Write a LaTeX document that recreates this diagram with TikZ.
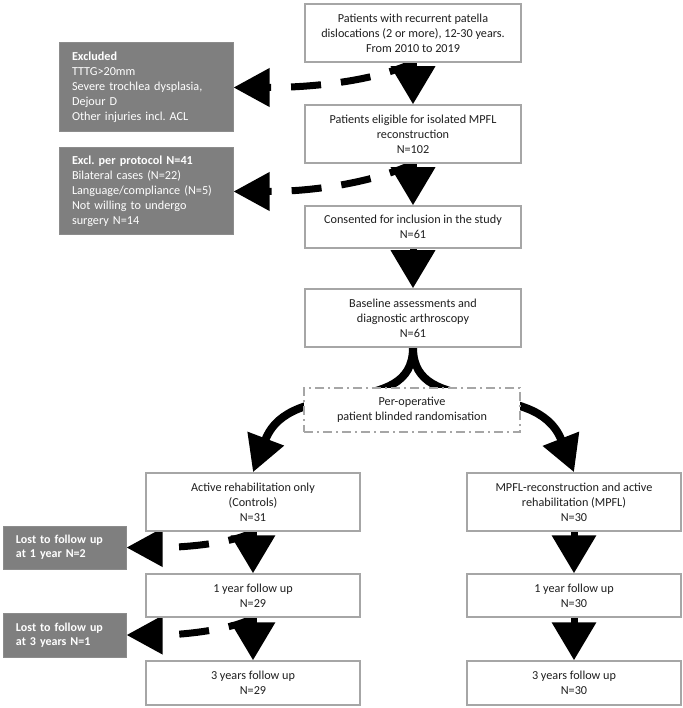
\documentclass[tikz,border=0pt]{standalone}
\usepackage{fontspec}
\setmainfont{Carlito}
\usetikzlibrary{arrows.meta,calc}
\pgfdeclarelayer{bg}
\pgfsetlayers{bg,main}
\definecolor{boxline}{HTML}{A6A6A6}
\definecolor{grayfill}{HTML}{7F7F7F}
\definecolor{grayline}{HTML}{8C8C8C}
\definecolor{txt}{HTML}{1F1F1F}
\frenchspacing
\tikzset{
  wbox/.style={draw=boxline, line width=1.5pt, fill=white, text=txt, align=center,
    minimum width=216pt, inner sep=0pt, font=\fontsize{12.2}{15}\selectfont},
  gbox/.style={draw=grayline, line width=1pt, fill=grayfill, text=white, align=left,
    inner xsep=13pt, inner ysep=0pt, font=\fontsize{12.2}{15}\selectfont},
  randbox/.style={wbox, dash pattern=on 9pt off 4pt on 2pt off 4pt},
  solidarr/.style={draw=black, line width=7pt, -{Triangle[length=38pt,width=43pt]}},
  dasharr/.style={draw=black, line width=7pt, dash pattern=on 30pt off 20pt, dash phase=5pt,
    -{Triangle[length=36pt,width=37pt]}},
  curvarr/.style={draw=black, line width=8pt, -{Triangle[length=36pt,width=37pt]}}
}
\begin{document}
\begin{tikzpicture}[x=1pt,y=-1pt]
\useasboundingbox (0,0) rectangle (682,708);
% main column
\node[wbox, minimum height=58pt] (b1) at (413,33) {Patients with recurrent patella\\dislocations (2 or more), 12-30 years.\\From 2010 to 2019};
\node[wbox, minimum height=58pt] (b2) at (413,134) {Patients eligible for isolated MPFL\\reconstruction\\N=102};
\node[wbox, minimum height=42pt] (b3) at (413,227) {Consented for inclusion in the study\\N=61};
\node[wbox, minimum height=58pt] (b4) at (413,318) {Baseline assessments and\\diagnostic arthroscopy\\N=61};
\node[randbox, minimum height=44pt] (rand) at (412,410) {Per-operative\\patient blinded randomisation};
% exclusion boxes
\node[gbox, text width=148pt, minimum height=89pt] (ex) at (146,87.5) {\textbf{Excluded}\\TTTG>20mm\\Severe trochlea dysplasia,\\Dejour D\\Other injuries incl. ACL};
\node[gbox, text width=148pt, minimum height=87pt] (pp) at (146,191.5) {\textbf{Excl. per protocol N=41}\\Bilateral cases (N=22)\\Language/compliance (N=5)\\Not willing to undergo\\surgery N=14};
% left column
\node[wbox, minimum width=214pt, minimum height=58pt] (l1) at (253,502) {Active rehabilitation only\\(Controls)\\N=31};
\node[wbox, minimum width=214pt, minimum height=43pt] (l2) at (253,595.5) {1 year follow up\\N=29};
\node[wbox, minimum width=214pt, minimum height=44pt] (l3) at (253,683) {3 years follow up\\N=29};
% right column
\node[wbox, minimum width=214pt, minimum height=58pt] (r1) at (574,502) {MPFL-reconstruction and active\\rehabilitation (MPFL)\\N=30};
\node[wbox, minimum width=214pt, minimum height=43pt] (r2) at (574,595.5) {1 year follow up\\N=30};
\node[wbox, minimum width=214pt, minimum height=44pt] (r3) at (574,683) {3 years follow up\\N=30};
% lost boxes
\node[gbox, font=\bfseries\fontsize{12}{14}\selectfont, text width=97pt, minimum height=43pt] (lost1) at (64.5,547.5) {Lost to follow up\\at 1 year N=2};
\node[gbox, font=\bfseries\fontsize{12}{14}\selectfont, text width=97pt, minimum height=44pt] (lost2) at (64.5,635) {Lost to follow up\\at 3 years N=1};

\begin{pgfonlayer}{bg}
% dashed exclusions
\draw[dasharr] (b1.south) .. controls ($(b1.south)+(-33,16)$) and ($(ex.east)+(88,0)$) .. (ex.east);
\draw[dasharr] (b2.south) .. controls ($(b2.south)+(-33,16)$) and ($(pp.east)+(88,0)$) .. (pp.east);
\draw[dasharr, dash phase=4pt] (l1.south) .. controls ($(l1.south)+(-20,12)$) and ($(lost1.east)+(55,0)$) .. (lost1.east);
\draw[dasharr, dash phase=4pt] (l2.south) .. controls ($(l2.south)+(-20,12)$) and ($(lost2.east)+(55,0)$) .. (lost2.east);
% solid arrows
\draw[solidarr] (b1.south) -- (b2.north);
\draw[solidarr] (b2.south) -- (b3.north);
\draw[solidarr] (b3.south) -- (b4.north);
\draw[solidarr] (l1.south) -- (l2.north);
\draw[solidarr] (l2.south) -- (l3.north);
\draw[solidarr] (r1.south) -- (r2.north);
\draw[solidarr] (r2.south) -- (r3.north);
% randomisation curves
\draw[curvarr] (b4.south) .. controls ($(b4.south)+(0,73)$) and (290,375) .. (l1.north);
\draw[curvarr] (b4.south) .. controls ($(b4.south)+(0,73)$) and (536,375) .. (r1.north);
\end{pgfonlayer}
\end{tikzpicture}
\end{document}
